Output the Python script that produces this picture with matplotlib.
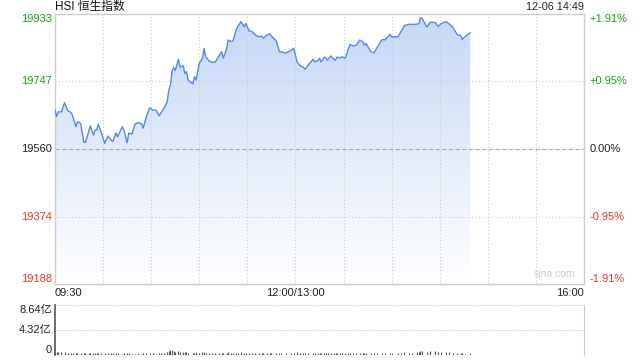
#!/usr/bin/env python3
"""
HSI intraday chart (12-06 14:49)
"""

import numpy as np
import matplotlib
matplotlib.use('Agg')
import matplotlib.pyplot as plt
from matplotlib.colors import to_rgba
from matplotlib.patches import Polygon
from matplotlib.transforms import blended_transform_factory

plt.rcParams['font.family'] = ['Liberation Sans', 'Noto Sans CJK SC', 'DejaVu Sans']

# minutes since 09:30 (afternoon session continues after 150 = 12:00/13:00)
minutes = [0, 1, 2, 4, 6, 8, 10, 11, 13, 14, 16, 18, 19, 21, 22, 24, 25, 26, 27, 29,
           31, 33, 35, 36, 38, 39, 42, 43, 45, 46, 48, 50, 52, 54, 55, 57, 59, 61, 63, 65,
           66, 68, 70, 71, 72, 73, 74, 75, 77, 78, 80, 81, 82, 83, 86, 87, 88, 90, 92, 93,
           94, 96, 98, 100, 102, 104, 105, 107, 108, 110, 111, 113, 114, 116, 118, 119, 121, 123, 125, 127,
           129, 130, 132, 134, 135, 138, 140, 141, 144, 147, 149,
           151, 153, 155, 156, 158, 161, 162, 164, 165, 166, 168, 169, 170, 172, 174, 175, 176, 178, 179, 181,
           183, 184, 186, 188, 190, 192, 193, 194, 197, 199, 201, 204, 206, 209, 210, 214, 216, 218, 221, 223,
           226, 227, 228, 229, 232, 234, 237, 239, 241, 244, 246, 248, 251, 253, 254, 256, 259]

prices = [19668, 19650, 19663, 19663, 19688, 19666, 19661, 19652, 19622, 19636, 19631, 19579, 19579, 19608, 19624, 19599, 19613, 19613, 19629, 19605,
          19576, 19596, 19585, 19581, 19605, 19594, 19622, 19613, 19578, 19604, 19602, 19630, 19633, 19630, 19618, 19650, 19674, 19668, 19668, 19652,
          19660, 19673, 19691, 19723, 19737, 19774, 19786, 19777, 19808, 19786, 19790, 19769, 19774, 19751, 19740, 19760, 19751, 19797, 19811, 19838,
          19815, 19804, 19799, 19801, 19815, 19829, 19811, 19836, 19861, 19857, 19859, 19889, 19898, 19912, 19898, 19907, 19887, 19884, 19875, 19870,
          19872, 19866, 19875, 19878, 19872, 19859, 19829, 19829, 19825, 19832, 19838,
          19801, 19790, 19786, 19780, 19792, 19808, 19801, 19804, 19811, 19801, 19814, 19811, 19806, 19817, 19808, 19806, 19814, 19812, 19815, 19811,
          19836, 19849, 19845, 19847, 19861, 19857, 19847, 19852, 19829, 19826, 19841, 19862, 19862, 19877, 19870, 19870, 19886, 19901, 19905, 19904,
          19905, 19907, 19923, 19921, 19897, 19910, 19910, 19899, 19907, 19912, 19905, 19897, 19876, 19874, 19863, 19872, 19881]

# volume in 亿
volumes = [0.55, 0.5, 0.45, 0.5, 0.45, 0.4, 0.42, 0.38, 0.4, 0.35, 0.38, 0.4, 0.36, 0.33, 0.35, 0.3, 0.32, 0.35, 0.3, 0.28,
           0.3, 0.28, 0.3, 0.26, 0.3, 0.28, 0.25, 0.27, 0.3, 0.26, 0.24, 0.25, 0.28, 0.25, 0.3, 0.32, 0.28, 0.26, 0.25, 0.3,
           0.35, 0.4, 0.5, 0.75, 0.9, 0.8, 0.7, 0.6, 0.65, 0.55, 0.5, 0.45, 0.5, 0.42, 0.4, 0.38, 0.45, 0.4, 0.5, 0.48,
           0.42, 0.38, 0.4, 0.35, 0.36, 0.4, 0.38, 0.35, 0.45, 0.42, 0.4, 0.38, 0.36, 0.45, 0.4, 0.38, 0.35, 0.34, 0.32, 0.3,
           0.3, 0.28, 0.32, 0.3, 0.28, 0.3, 0.35, 0.3, 0.28, 0.3, 0.32,
           0.45, 0.4, 0.35, 0.32, 0.3, 0.3, 0.28, 0.3, 0.27, 0.28, 0.26, 0.3, 0.28, 0.26, 0.3, 0.28, 0.27, 0.3, 0.28, 0.3,
           0.35, 0.38, 0.32, 0.3, 0.35, 0.32, 0.3, 0.33, 0.35, 0.3, 0.32, 0.35, 0.38, 0.36, 0.4, 0.38, 0.4, 0.45, 0.42, 0.4,
           0.5, 0.55, 0.7, 0.65, 0.6, 0.7, 0.65, 0.55, 0.6, 0.5, 0.45, 0.4, 0.35, 0.3, 0.28, 0.25, 0.3]

price_levels = [19933, 19747, 19560, 19374, 19188]
pct_labels = ['+1.91%', '+0.95%', '0.00%', '-0.95%', '-1.91%']
vol_levels = [8.64, 4.32, 0]
vol_labels = ['8.64亿', '4.32亿', '0']
time_labels = ['09:30', '12:00/13:00', '16:00']
time_ticks = [0, 150, 330]

GREEN = '#1d9e1d'
RED = '#ee3322'
LINE = '#5588ee'
FRAME = '#cccccc'
label_colors = [GREEN, GREEN, '#222222', RED, RED]
label_va = ['top', 'center', 'center', 'center', 'bottom']

fig = plt.figure(figsize=(6.4, 3.6), dpi=100)
ax = fig.add_axes([55 / 640, 1 - 284 / 360, 529 / 640, 270 / 360])
ax.set_xlim(0, 330)
ax.set_ylim(price_levels[-1], price_levels[0])

# grid (drawn over the fill, under the line)
for m in range(30, 330, 30):
    ax.axvline(m, color=FRAME, lw=0.8, ls=(0, (1, 2)), zorder=2.5)
for lv in [price_levels[1], price_levels[3]]:
    ax.axhline(lv, color=FRAME, lw=0.8, ls=(0, (1, 2)), zorder=2.5)
ax.axhline(price_levels[2], color='#aaaaaa', lw=0.8, ls=(0, (4, 2)), zorder=2.5)

# gradient fill under the line
top_c = np.array(to_rgba('#c5d8f6'))
bot_c = np.array(to_rgba('#ffffff'))
t = np.linspace(0, 1, 256)[:, None]
grad = (top_c * (1 - t) + bot_c * t)[:, None, :]
im = ax.imshow(grad, extent=[minutes[0], minutes[-1], price_levels[-1], price_levels[0]],
               aspect='auto', origin='upper', zorder=2)
verts = np.column_stack([np.r_[minutes[0], minutes, minutes[-1]],
                         np.r_[price_levels[-1], prices, price_levels[-1]]])
clip = Polygon(verts, closed=True, transform=ax.transData, facecolor='none', edgecolor='none')
ax.add_patch(clip)
im.set_clip_path(clip)

ax.plot(minutes, prices, color=LINE, lw=1.0, zorder=3)

ax.set_xticks([])
ax.set_yticks([])
for s in ax.spines.values():
    s.set_color(FRAME)
    s.set_linewidth(1.0)

yt = blended_transform_factory(ax.transAxes, ax.transData)
for lv, pl, c, va in zip(price_levels, pct_labels, label_colors, label_va):
    ax.text(-0.006, lv, str(lv), transform=yt, ha='right', va=va, fontsize=8, color=c)
    ax.text(1.01, lv, pl, transform=yt, ha='left', va=va, fontsize=8, color=c)

xt = blended_transform_factory(ax.transData, ax.transAxes)
for tk, lab, ha in zip(time_ticks, time_labels, ['left', 'center', 'right']):
    ax.text(tk, -0.035, lab, transform=xt, ha=ha, va='center', fontsize=8, color='#222222')

ax.text(0, 1.027, 'HSI 恒生指数', transform=ax.transAxes, ha='left', va='center',
        fontsize=8.5, color='#111111')
ax.text(1, 1.027, '12-06 14:49', transform=ax.transAxes, ha='right', va='center',
        fontsize=7.8, color='#222222')
ax.text(0.945, 0.02, 'sina.com', transform=ax.transAxes, ha='center', va='bottom',
        fontsize=7.5, color='#cccccc')

# volume panel
vax = fig.add_axes([55 / 640, 1 - 355 / 360, 529 / 640, 50 / 360])
vax.set_xlim(0, 330)
vax.set_ylim(0, vol_levels[0])
vax.vlines(minutes, 0, volumes, color='#555555', lw=0.8)
vax.axhline(vol_levels[0], color=FRAME, lw=0.8, ls=(0, (1, 1)))
vax.axhline(vol_levels[1], color=FRAME, lw=0.8, ls=(0, (1, 1)))
vax.set_xticks([])
vax.set_yticks([])
vax.spines['top'].set_visible(False)
vax.spines['bottom'].set_visible(False)
vax.spines['right'].set_color(FRAME)
vax.spines['left'].set_color('#555555')
vax.spines['left'].set_linewidth(1.2)
for lv, lab, va in zip(vol_levels, vol_labels, ['top', 'center', 'bottom']):
    vax.text(-0.006, lv, lab, transform=blended_transform_factory(vax.transAxes, vax.transData),
             ha='right', va=va, fontsize=8, color='#222222')

fig.savefig('out.png', dpi=100)
